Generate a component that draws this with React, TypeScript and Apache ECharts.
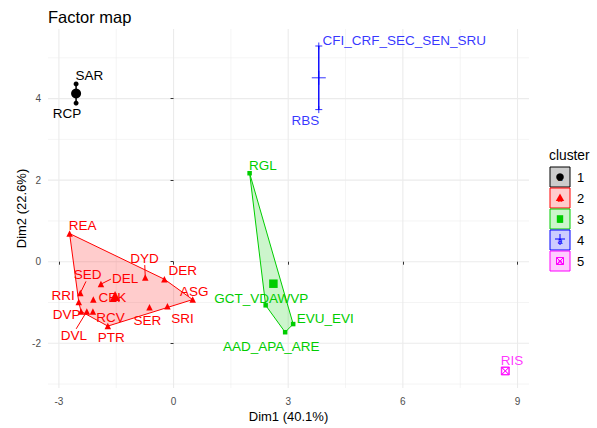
import React, { useEffect, useRef } from "react";
import * as echarts from "echarts";

// ---------- data ----------
const clusterIds = ["1", "2", "3", "4", "5"];
const clusterColors = ["#000000", "#FF0000", "#00CD00", "#0000FF", "#FF00FF"];

const pointNames = [
  "SAR", "RCP",
  "REA", "DYD", "DER", "ASG", "SRI", "SER", "PTR", "DEL", "CEK", "SED", "RRI", "DVP", "DVL", "RCV",
  "RGL", "GCT_VDAWVP", "EVU_EVI", "AAD_APA_ARE",
  "CFI_CRF_SEC_SEN_SRU", "RBS",
  "RIS",
];
const pointCluster = [1, 1, 2, 2, 2, 2, 2, 2, 2, 2, 2, 2, 2, 2, 2, 2, 3, 3, 3, 3, 4, 4, 5];
const dim1 = [
  -2.55, -2.55,
  -2.72, -0.74, -0.24, 0.5, -0.16, -0.63, -1.72, -1.9, -2.1, -2.44, -2.48, -2.42, -2.27, -2.11,
  1.99, 2.41, 3.13, 2.92,
  3.8, 3.8,
  8.68,
];
const dim2 = [
  4.36, 3.89,
  0.69, -0.39, -0.43, -0.93, -1.09, -1.12, -1.58, -0.55, -0.93, -0.77, -0.99, -1.22, -1.22, -1.22,
  2.17, -1.07, -1.53, -1.73,
  5.29, 3.73,
  -2.68,
];

const xTicks = [-3, 0, 3, 6, 9];
const xMinor = [-1.5, 1.5, 4.5, 7.5];
const yTicks = [-2, 0, 2, 4];
const yMinor = [-3, -1, 1, 3, 5];

// ---------- layout / style ----------
const FONT = "'Liberation Sans', Arial, sans-serif";
const labelOffset: Record<string, [number, number]> = {
  SAR: [13.3, -8.3],
  RCP: [-9, 10],
  CFI_CRF_SEC_SEN_SRU: [85.5, -5.7],
  RBS: [-13.3, 11],
  RGL: [13.3, -7.6],
  GCT_VDAWVP: [-4.5, -6.6],
  EVU_EVI: [32, -6],
  AAD_APA_ARE: [-14, 14],
  RIS: [6.7, -10],
  REA: [13, -8.3],
  DYD: [-0.7, -19.3],
  DER: [18.3, -8.3],
  ASG: [1.7, -8.4],
  SRI: [15, 12.4],
  SER: [-2, 13.4],
  PTR: [3.4, 11],
  DEL: [24.3, -6],
  CEK: [19, -2.4],
  SED: [7.3, -19],
  RRI: [-15.7, -6.7],
  DVP: [-14.4, 3.4],
  DVL: [-12.8, 24.4],
  RCV: [17.5, 6],
};
const segmentEnd: Record<string, [number, number]> = {
  DYD: [-0.5, -12.5],
  SED: [5.7, -11.7],
  DEL: [10, -5],
  DVL: [-10.6, 17.4],
};

const PLUS = "path://M0,5L10,5M5,0L5,10";
const SQX = "path://M0,0L10,0L10,10L0,10ZM0,0L10,10M10,0L0,10";
const symbols = ["circle", "triangle", "rect", PLUS, SQX];
const pointSizes = [5, 6.5, 4.5, 7, 7];
const centroidSizes = [10, 10, 8.5, 14, 8];
const stroked = [false, false, false, true, true];

function alpha(hex: string, a: number) {
  const r = parseInt(hex.slice(1, 3), 16);
  const g = parseInt(hex.slice(3, 5), 16);
  const b = parseInt(hex.slice(5, 7), 16);
  return `rgba(${r},${g},${b},${a})`;
}

function convexHull(pts: number[][]) {
  const p = pts.slice().sort((a, b) => a[0] - b[0] || a[1] - b[1]);
  if (p.length < 3) return p;
  const cross = (o: number[], a: number[], b: number[]) =>
    (a[0] - o[0]) * (b[1] - o[1]) - (a[1] - o[1]) * (b[0] - o[0]);
  const lower: number[][] = [];
  for (const q of p) {
    while (lower.length >= 2 && cross(lower[lower.length - 2], lower[lower.length - 1], q) <= 0) lower.pop();
    lower.push(q);
  }
  const upper: number[][] = [];
  for (let i = p.length - 1; i >= 0; i--) {
    const q = p[i];
    while (upper.length >= 2 && cross(upper[upper.length - 2], upper[upper.length - 1], q) <= 0) upper.pop();
    upper.push(q);
  }
  upper.pop();
  lower.pop();
  return lower.concat(upper);
}

function buildOption() {
  const series: any[] = [];

  // gridlines
  const vLines = [...xTicks.map((v) => [v, 0, 1]), ...xMinor.map((v) => [v, 0, 0])];
  const hLines = [...yTicks.map((v) => [0, v, 1]), ...yMinor.map((v) => [0, v, 0])];
  series.push({
    type: "custom",
    silent: true,
    z: 0,
    data: vLines,
    renderItem: (params: any, api: any) => {
      const x = api.coord([api.value(0), 0])[0];
      const cs = params.coordSys;
      const major = api.value(2) === 1;
      return {
        type: "line",
        shape: { x1: x, y1: cs.y, x2: x, y2: cs.y + cs.height },
        style: { stroke: "#EBEBEB", lineWidth: major ? 1.1 : 0.55 },
      };
    },
  });
  series.push({
    type: "custom",
    silent: true,
    z: 0,
    data: hLines,
    renderItem: (params: any, api: any) => {
      const y = api.coord([0, api.value(1)])[1];
      const cs = params.coordSys;
      const major = api.value(2) === 1;
      return {
        type: "line",
        shape: { x1: cs.x, y1: y, x2: cs.x + cs.width, y2: y },
        style: { stroke: "#EBEBEB", lineWidth: major ? 1.1 : 0.55 },
      };
    },
  });

  clusterIds.forEach((cid, ci) => {
    const color = clusterColors[ci];
    const idx = pointNames.map((_, i) => i).filter((i) => pointCluster[i] === ci + 1);
    const pts = idx.map((i) => [dim1[i], dim2[i]]);

    // hull
    if (pts.length >= 2) {
      const h = convexHull(pts);
      series.push({
        type: "custom",
        silent: true,
        z: 1,
        data: [h[0]],
        renderItem: (_params: any, api: any) => ({
          type: "polygon",
          shape: { points: h.map((q) => api.coord(q)) },
          style: { fill: alpha(color, 0.2), stroke: color, lineWidth: 1 },
        }),
      });
    }

    // segments
    const segIdx = idx.filter((i) => segmentEnd[pointNames[i]]);
    if (segIdx.length) {
      series.push({
        type: "custom",
        silent: true,
        z: 2,
        data: segIdx.map((i) => [dim1[i], dim2[i]]),
        renderItem: (params: any, api: any) => {
          const i = segIdx[params.dataIndex];
          const p = api.coord([dim1[i], dim2[i]]);
          const e = segmentEnd[pointNames[i]];
          return {
            type: "line",
            shape: { x1: p[0], y1: p[1], x2: p[0] + e[0], y2: p[1] + e[1] },
            style: { stroke: color, lineWidth: 1 },
          };
        },
      });
    }

    // points + labels
    series.push({
      type: "scatter",
      name: cid,
      z: 3,
      symbol: symbols[ci],
      symbolSize: pointSizes[ci],
      itemStyle: stroked[ci]
        ? { color: "rgba(0,0,0,0)", borderColor: color, borderWidth: 1 }
        : { color, opacity: 1 },
      label: {
        show: true,
        position: "inside",
        formatter: "{b}",
        color,
        fontSize: 13.5,
        fontFamily: FONT,
      },
      data: idx.map((i) => ({
        name: pointNames[i],
        value: [dim1[i], dim2[i]],
        label: { offset: labelOffset[pointNames[i]] || [0, -10] },
      })),
    });

    // centroid
    const cx = pts.reduce((s, q) => s + q[0], 0) / pts.length;
    const cy = pts.reduce((s, q) => s + q[1], 0) / pts.length;
    series.push({
      type: "scatter",
      silent: true,
      z: 4,
      symbol: symbols[ci],
      symbolSize: centroidSizes[ci],
      itemStyle: stroked[ci]
        ? { color: "rgba(0,0,0,0)", borderColor: color, borderWidth: 1 }
        : { color, opacity: 1 },
      data: [[cx, cy]],
    });
  });

  // legend (manual, ggplot style)
  const graphic: any[] = [
    {
      type: "text",
      x: 549,
      y: 155,
      style: { text: "cluster", fill: "#000", font: `13.8px ${FONT}`, verticalAlign: "middle" },
    },
  ];
  clusterIds.forEach((cid, ci) => {
    const color = clusterColors[ci];
    const y0 = 167 + 21 * ci;
    const cx = 560;
    const cy = y0 + 10;
    graphic.push({
      type: "rect",
      shape: { x: 550, y: y0, width: 20, height: 20 },
      style: { fill: alpha(color, 0.2), stroke: color, lineWidth: 1 },
    });
    if (ci === 0) graphic.push({ type: "circle", shape: { cx, cy, r: 3.8 }, style: { fill: color } });
    if (ci === 1)
      graphic.push({
        type: "polygon",
        shape: { points: [[cx, cy - 4.5], [cx + 4.2, cy + 3], [cx - 4.2, cy + 3]] },
        style: { fill: color },
      });
    if (ci === 2) graphic.push({ type: "rect", shape: { x: cx - 3.2, y: cy - 3.8, width: 6.4, height: 7.6 }, style: { fill: color } });
    if (ci === 3) {
      graphic.push({ type: "line", shape: { x1: cx - 5, y1: cy - 1, x2: cx + 5, y2: cy - 1 }, style: { stroke: color, lineWidth: 1 } });
      graphic.push({ type: "line", shape: { x1: cx, y1: cy - 6, x2: cx, y2: cy + 5 }, style: { stroke: color, lineWidth: 1 } });
    }
    if (ci === 4) {
      graphic.push({ type: "rect", shape: { x: cx - 3.5, y: cy - 3.5, width: 7, height: 7 }, style: { fill: "none", stroke: color, lineWidth: 1 } });
      graphic.push({ type: "line", shape: { x1: cx - 3.5, y1: cy - 3.5, x2: cx + 3.5, y2: cy + 3.5 }, style: { stroke: color, lineWidth: 1 } });
      graphic.push({ type: "line", shape: { x1: cx + 3.5, y1: cy - 3.5, x2: cx - 3.5, y2: cy + 3.5 }, style: { stroke: color, lineWidth: 1 } });
    }
    graphic.push({
      type: "text",
      x: cx,
      y: cy + 1,
      style: { text: "a", fill: color, font: `9px ${FONT}`, align: "center", verticalAlign: "middle" },
    });
    graphic.push({
      type: "text",
      x: 577,
      y: cy,
      style: { text: cid, fill: "#000", font: `13px ${FONT}`, verticalAlign: "middle" },
    });
  });

  return {
    animation: false,
    backgroundColor: "#FFFFFF",
    textStyle: { fontFamily: FONT },
    title: {
      text: "Factor map",
      left: 48,
      top: 8,
      padding: 0,
      textStyle: { fontSize: 16.5, fontWeight: "normal", color: "#000", fontFamily: FONT },
    },
    grid: { left: 48, right: 68, top: 29, bottom: 38 },
    xAxis: {
      type: "value",
      min: -3.285,
      max: 9.3,
      name: "Dim1 (40.1%)",
      nameLocation: "middle",
      nameGap: 22,
      nameMoveOverlap: false,
      nameTextStyle: { fontSize: 13, color: "#000", fontFamily: FONT },
      axisLine: { show: false },
      axisTick: { show: true, length: 3, customValues: xTicks, lineStyle: { color: "#333333" } },
      axisLabel: { customValues: xTicks, fontSize: 10, color: "#4D4D4D", margin: 8, fontFamily: FONT },
      splitLine: { show: false },
    },
    yAxis: {
      type: "value",
      min: -3.098,
      max: 5.707,
      name: "Dim2 (22.6%)",
      nameLocation: "middle",
      nameRotate: 90,
      nameGap: 20,
      nameMoveOverlap: false,
      nameTextStyle: { fontSize: 13, color: "#000", fontFamily: FONT },
      axisLine: { show: false },
      axisTick: { show: true, length: 3, customValues: yTicks, lineStyle: { color: "#333333" } },
      axisLabel: { customValues: yTicks, fontSize: 10, color: "#4D4D4D", margin: 7, fontFamily: FONT },
      splitLine: { show: false },
    },
    graphic,
    series,
  };
}

export default function App() {
  const ref = useRef<HTMLDivElement>(null);
  useEffect(() => {
    if (!ref.current) return;
    const chart = echarts.init(ref.current, undefined, { renderer: "svg" });
    chart.setOption(buildOption() as any);
    return () => chart.dispose();
  }, []);
  return (
    <div
      ref={ref}
      style={{ position: "absolute", left: 0, top: 0, width: 597, height: 428, background: "#fff" }}
    />
  );
}
